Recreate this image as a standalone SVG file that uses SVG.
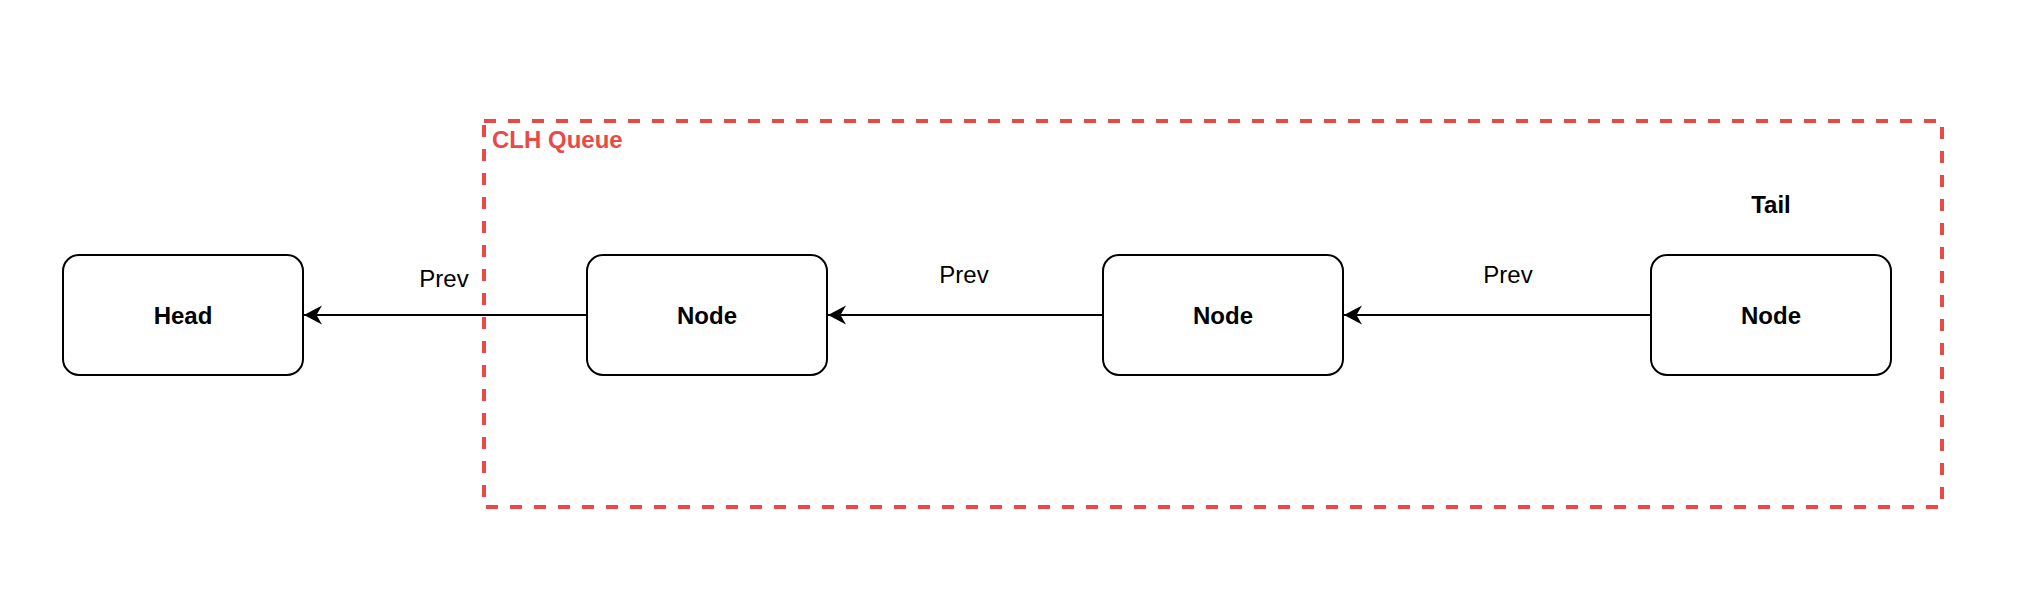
<svg xmlns="http://www.w3.org/2000/svg" width="2036" height="602" viewBox="0 0 2036 602">
<style>
  .node rect { fill: #ffffff; stroke: #000000; stroke-width: 2; }
  .lbl { font-family: "Liberation Sans", Arial, Helvetica, sans-serif; font-size: 24px; fill: #000000; }
  .bold { font-weight: bold; }
  .mid { text-anchor: middle; }
  .edge { stroke: #000000; stroke-width: 2; fill: none; marker-end: url(#arrow); }
  .group { fill: none; stroke: #e94a47; stroke-width: 4; stroke-dasharray: 12 12; }
</style>
<defs>
  <marker id="arrow" markerUnits="userSpaceOnUse" markerWidth="20" markerHeight="22" viewBox="-19 -11 20 22" refX="0" refY="0" orient="auto">
    <path d="M0,0 L-18,-9.5 L-12.5,0 L-18,9.5 Z" fill="#000000"/>
  </marker>
</defs>
<rect width="2036" height="602" fill="#ffffff"/>
<g id="clh-queue">
  <rect class="group" x="484" y="121" width="1458" height="386"/>
  <text class="lbl bold" x="492" y="148" style="fill:#e94a47">CLH Queue</text>
</g>
<g id="connectors">
  <line class="edge" x1="587" y1="315" x2="304" y2="315"/>
  <line class="edge" x1="1103" y1="315" x2="828" y2="315"/>
  <line class="edge" x1="1651" y1="315" x2="1344" y2="315"/>
  <text class="lbl mid" x="444" y="287">Prev</text>
  <text class="lbl mid" x="964" y="283">Prev</text>
  <text class="lbl mid" x="1508" y="283">Prev</text>
</g>
<g id="head" class="node">
  <rect x="63" y="255" width="240" height="120" rx="16" ry="16"/>
  <text class="lbl bold mid" x="183" y="323.5">Head</text>
</g>
<g id="node1" class="node">
  <rect x="587" y="255" width="240" height="120" rx="16" ry="16"/>
  <text class="lbl bold mid" x="707" y="323.5">Node</text>
</g>
<g id="node2" class="node">
  <rect x="1103" y="255" width="240" height="120" rx="16" ry="16"/>
  <text class="lbl bold mid" x="1223" y="323.5">Node</text>
</g>
<g id="node3" class="node">
  <rect x="1651" y="255" width="240" height="120" rx="16" ry="16"/>
  <text class="lbl bold mid" x="1771" y="323.5">Node</text>
</g>
<g id="tail-label">
  <text class="lbl bold mid" x="1771" y="213">Tail</text>
</g>
</svg>
